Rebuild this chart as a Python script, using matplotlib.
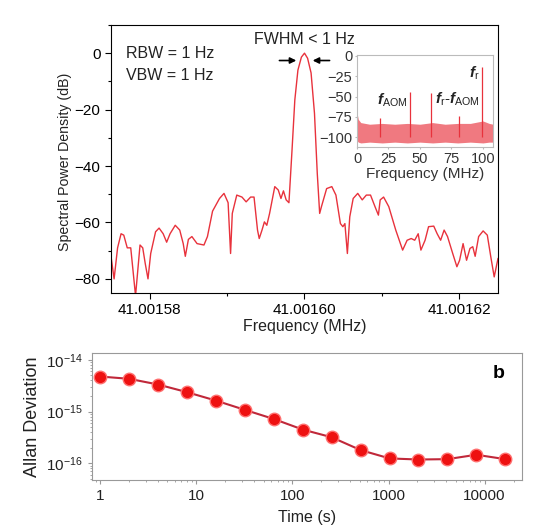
import numpy as np
import matplotlib
matplotlib.use("Agg")
import matplotlib.pyplot as plt
from matplotlib.ticker import MultipleLocator, FormatStrFormatter, FixedLocator, FuncFormatter

plt.rcParams['font.family'] = ['Liberation Sans', 'DejaVu Sans']
plt.rcParams['mathtext.fontset'] = 'custom'
plt.rcParams['mathtext.rm'] = 'Liberation Sans'
plt.rcParams['mathtext.it'] = 'Liberation Sans:italic:bold'
plt.rcParams['mathtext.bf'] = 'Liberation Sans:bold'

# beat note spectrum, offset from the carrier in Hz
f0_mhz = 41.0016
offset_hz = [-25.0, -24.6, -24.15, -23.7, -23.35, -22.9, -22.45, -21.83, -21.25, -20.9,
             -20.58, -20.22, -19.87, -19.24, -18.79, -18.26, -17.81, -17.37, -16.7, -16.12,
             -15.67, -15.4, -15.0, -14.55, -13.88, -12.99, -12.54, -11.88, -10.98, -10.4,
             -9.87, -9.55, -9.33, -8.75, -8.08, -7.54, -6.96, -6.52, -6.07, -5.85,
             -5.49, -5.18, -4.87, -4.51, -3.84, -3.39, -3.04, -2.72, -2.37, -2.01,
             -1.61, -1.25, -0.85, -0.4, 0.0, 0.4, 0.85, 1.29, 1.65, 1.96,
             2.19, 2.86, 3.53, 4.06, 4.64, 4.96, 5.22, 5.54, 5.85, 6.29,
             6.88, 7.46, 7.99, 8.53, 9.11, 9.55, 9.78, 10.22, 10.89, 11.79,
             12.68, 13.26, 13.79, 14.24, 14.69, 15.04, 15.58, 16.03, 16.7, 17.14,
             17.59, 18.04, 18.48, 19.15, 19.69, 20.04, 20.49, 20.94, 21.38, 21.74,
             22.05, 22.5, 23.08, 23.62, 24.06, 24.51, 24.78, 25.0]
psd_db = [-72, -80, -69, -64, -64.5, -69, -69, -86, -68, -69,
          -74.5, -80, -71, -63.3, -62, -64, -67, -64, -61, -62.7,
          -67.5, -72, -66, -65, -67.5, -68, -65, -56, -51.5, -49.7,
          -53, -71, -56.8, -50.3, -51, -52.7, -51, -51, -62.7, -65.7,
          -62.7, -59.8, -61, -56.8, -47.3, -48.5, -51.5, -48.8, -52, -53,
          -34.3, -16.6, -6, -1.4, 0, -1.8, -7, -21.3, -42.6, -56.8,
          -54.4, -48, -47.3, -50.3, -60.4, -61.5, -60.4, -71, -58, -51.5,
          -49.7, -52, -50.3, -50.3, -54.4, -57.4, -52, -51, -54.4, -62.7,
          -69.8, -66.3, -65.7, -66.3, -64, -69.8, -66.3, -61.5, -61.3, -64,
          -66.3, -62.7, -65, -71, -75.7, -73.4, -67.5, -73.4, -69.2, -68.6,
          -72, -65, -63, -64.5, -72, -79.3, -75.7, -72.8]

# wide-span inset: noise floor envelope and discrete lines (MHz, dB)
floor_mhz = [0, 1, 3, 10, 20, 30, 40, 50, 60, 70, 80, 90, 100, 105, 108]
floor_top = [-70, -78, -82, -84, -83, -84, -83, -84, -82, -84, -83, -83, -80, -83, -84]
floor_bot = [-104, -106, -107, -106, -107, -106, -107, -106, -107, -106, -107, -106, -107, -106, -106]
line_mhz = [18, 42, 58.5, 81, 99.5]
line_db = [-76, -45, -46, -74, -14]

# Allan deviation
tau_s = [1, 2, 4, 8, 16, 32, 64, 128, 256, 512, 1024, 2048, 4096, 8192, 16384]
adev = [4.75e-15, 4.29e-15, 3.33e-15, 2.37e-15, 1.63e-15, 1.08e-15, 7.2e-16, 4.5e-16,
        3.2e-16, 1.81e-16, 1.25e-16, 1.19e-16, 1.21e-16, 1.47e-16, 1.21e-16]

red = '#e8323c'
fig = plt.figure(figsize=(5.42, 5.30), dpi=100)

# --- spectrum ---
ax = fig.add_axes([0.2048, 0.4472, 0.7140, 0.5057])
freq = f0_mhz + np.array(offset_hz) / 1e6
ax.plot(freq, psd_db, color=red, lw=1.0)
ax.set_xlim(f0_mhz - 25e-6, f0_mhz + 25e-6)
ax.set_ylim(-85, 10)
ax.xaxis.set_major_locator(FixedLocator([f0_mhz - 20e-6, f0_mhz, f0_mhz + 20e-6]))
ax.xaxis.set_minor_locator(FixedLocator([f0_mhz - 10e-6, f0_mhz + 10e-6]))
ax.xaxis.set_major_formatter(FormatStrFormatter('%.5f'))
ax.yaxis.set_major_locator(MultipleLocator(20))
ax.yaxis.set_minor_locator(MultipleLocator(10))
ax.tick_params(which='both', direction='out', labelsize=11, width=0.8)
ax.tick_params(which='major', length=4)
ax.tick_params(which='minor', length=2.5)
ax.set_ylabel('Spectral Power Density (dB)', fontsize=10.2, color='#222222')
ax.yaxis.set_label_coords(-0.1, 0.49)
ax.set_xlabel('Frequency (MHz)', fontsize=11.5, color='#222222', labelpad=1)
ax.text(0.04, 0.895, 'RBW = 1 Hz', transform=ax.transAxes, fontsize=11.5, color='#222222', va='center')
ax.text(0.04, 0.81, 'VBW = 1 Hz', transform=ax.transAxes, fontsize=11.5, color='#222222', va='center')
ax.text(f0_mhz, 5.0, 'FWHM < 1 Hz', fontsize=11.5, color='#222222', ha='center', va='center')
ax.annotate('', xy=(f0_mhz - 0.7e-6, -2.6), xytext=(f0_mhz - 3.6e-6, -2.6),
            arrowprops=dict(arrowstyle='-|>', color='black', lw=1.2, mutation_scale=9))
ax.annotate('', xy=(f0_mhz + 0.7e-6, -2.6), xytext=(f0_mhz + 3.6e-6, -2.6),
            arrowprops=dict(arrowstyle='-|>', color='black', lw=1.2, mutation_scale=9))

# --- inset ---
ins = fig.add_axes([0.6587, 0.7226, 0.2509, 0.1736])
ins.fill_between(floor_mhz, floor_bot, floor_top, color=red, alpha=0.65, lw=0)
ins.vlines(line_mhz, -100, line_db, color=red, lw=0.9)
ins.set_xlim(0, 108)
ins.set_ylim(-112, 1)
ins.set_xticks([0, 25, 50, 75, 100])
ins.set_yticks([0, -25, -50, -75, -100])
ins.tick_params(labelsize=10.5, length=1.5, colors='#bbbbbb', labelcolor='#333333', pad=2)
for s in ins.spines.values():
    s.set_color('#bbbbbb')
ins.set_xlabel('Frequency (MHz)', fontsize=11, color='#333333', labelpad=1)
ins.text(28, -55, r'$f_{\mathrm{AOM}}$', fontsize=11, ha='center', va='center', color='#222222')
ins.text(80, -53, r'$f_{\mathrm{r}}$-$f_{\mathrm{AOM}}$', fontsize=11, ha='center', va='center', color='#222222')
ins.text(93, -22, r'$f_{\mathrm{r}}$', fontsize=11, ha='center', va='center', color='#222222')

# --- Allan deviation ---
bx = fig.add_axes([0.1697, 0.0943, 0.7934, 0.2396])
bx.plot(tau_s, adev, color='#c0283a', lw=1.5, marker='o', markersize=9,
        markerfacecolor='#ee1111', markeredgecolor='#ff7070', markeredgewidth=1)
bx.set_xscale('log')
bx.set_yscale('log')
bx.set_xlim(0.82, 24500)
bx.set_ylim(10 ** -16.32, 10 ** -13.87)
bx.xaxis.set_major_formatter(FuncFormatter(lambda v, p: f'{v:g}'))
for s in bx.spines.values():
    s.set_color('#999999')
bx.tick_params(which='both', direction='out', colors='#999999', labelcolor='#222222', labelsize=11)
bx.tick_params(which='major', length=3)
bx.tick_params(which='minor', length=1.5)
bx.set_ylabel('Allan Deviation', fontsize=13, color='#222222', labelpad=4)
bx.set_xlabel('Time (s)', fontsize=11.5, color='#222222', labelpad=5)
bx.text(0.945, 0.84, 'b', transform=bx.transAxes, fontsize=14, fontweight='bold', ha='center', va='center')

fig.savefig('out.png', dpi=100)
